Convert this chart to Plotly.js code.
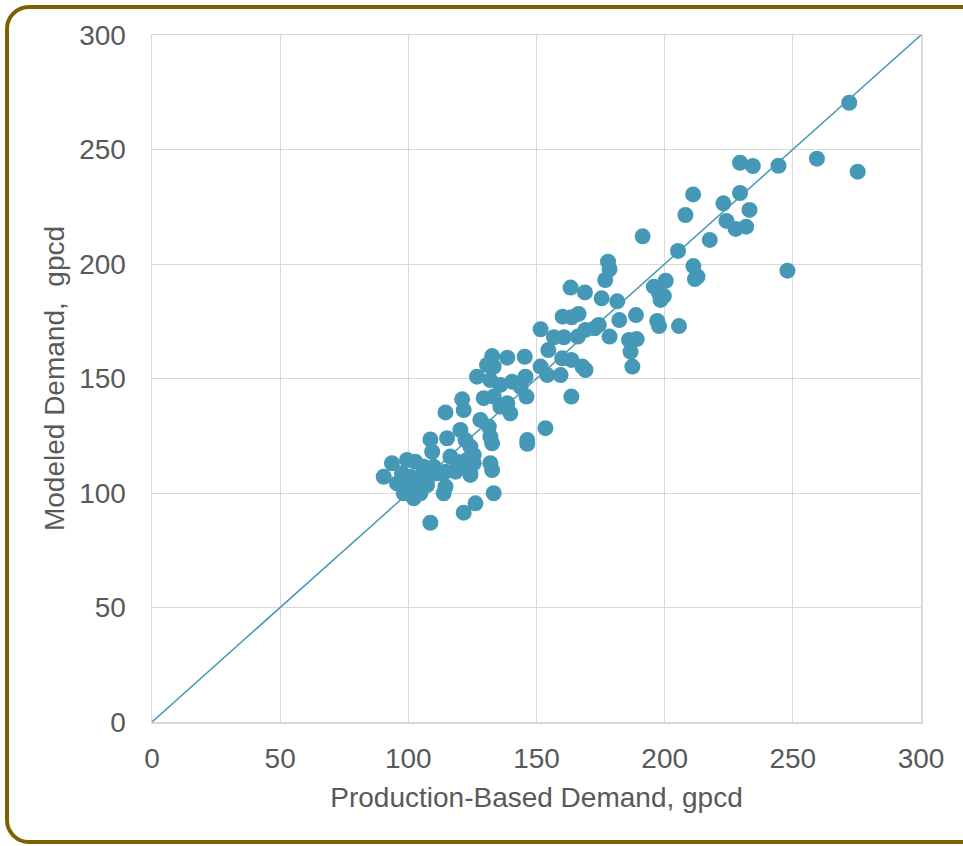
<!DOCTYPE html>
<html>
<head>
<meta charset="utf-8">
<script src="https://cdn.plot.ly/plotly-3.0.1.min.js"></script>
<style>
  html, body { margin: 0; padding: 0; background: #ffffff; }
  #frame { position: absolute; left: 5px; top: 5px; width: 990px; height: 839px;
           border: 4px solid #7f6000; border-radius: 24px; box-sizing: border-box; }
  #chart { position: absolute; left: 0; top: 0; width: 963px; height: 846px; }
</style>
</head>
<body>
<div id="frame"></div>
<div id="chart"></div>
<script>
// Production-based demand (gpcd)
const productionDemand = [
  272.0, 229.4, 234.4, 244.4, 259.4, 275.3, 211.1, 229.4, 222.9, 233.1,
  208.1, 224.1, 227.7, 231.8, 191.4, 217.6, 205.2, 177.9, 178.5, 176.8,
  211.2, 212.8, 211.8, 247.9, 200.4, 195.8, 197.8, 199.7, 198.4, 175.4,
  181.5, 163.3, 168.9, 188.8, 182.3, 197.1, 197.8, 205.6, 160.2, 163.7,
  166.4, 151.6, 156.8, 160.7, 166.1, 169.1, 172.7, 174.3, 178.5, 186.1,
  189.1, 186.7, 187.4, 154.6, 138.6, 145.4, 160.0, 163.6, 151.6, 154.2,
  159.4, 167.9, 169.1, 140.5, 145.7, 143.8, 146.1, 163.6, 135.9, 139.8,
  153.5, 146.4, 132.7, 130.7, 133.3, 126.8, 132.0, 135.9, 129.4, 133.3,
  138.6, 121.0, 121.6, 114.5, 128.1, 131.4, 120.3, 122.3, 132.0, 132.7,
  108.6, 115.1, 109.3, 124.2, 125.5, 122.9, 116.4, 119.0, 121.6, 125.5,
  124.2, 132.0, 132.7, 118.4, 93.6, 90.4, 99.5, 102.7, 106.0, 109.9,
  97.5, 100.8, 104.7, 107.9, 111.2, 114.5, 95.6, 99.5, 103.4, 107.3,
  98.2, 102.1, 104.7, 114.5, 113.8, 124.2, 133.3, 126.2, 121.6, 108.6,
  146.4
];
// Modeled demand (gpcd)
const modeledDemand = [
  270.4, 244.2, 242.8, 242.9, 246.0, 240.3, 230.4, 231.0, 226.5, 223.6,
  221.4, 218.8, 215.3, 216.3, 212.1, 210.5, 205.7, 201.0, 197.7, 193.0,
  199.1, 194.5, 193.4, 197.1, 192.7, 190.1, 187.2, 186.0, 184.3, 185.0,
  183.7, 189.7, 187.6, 177.7, 175.5, 175.1, 172.9, 172.9, 177.0, 176.7,
  178.2, 171.5, 168.0, 168.0, 168.3, 171.2, 171.9, 173.4, 168.3, 166.8,
  167.2, 161.7, 155.2, 162.4, 159.1, 159.5, 158.8, 158.1, 155.2, 151.5,
  151.5, 155.2, 153.7, 148.6, 150.8, 146.4, 142.1, 142.1, 137.7, 134.8,
  128.3, 123.1, 159.8, 155.9, 155.2, 150.8, 149.3, 147.2, 141.4, 142.1,
  139.2, 140.9, 136.2, 135.2, 131.9, 129.0, 127.5, 123.1, 124.6, 121.7,
  123.4, 123.9, 118.0, 120.2, 116.6, 114.4, 115.9, 113.7, 111.5, 113.0,
  108.6, 113.0, 110.0, 109.3, 113.0, 107.1, 114.4, 113.7, 111.5, 111.5,
  108.6, 107.1, 107.1, 107.1, 108.6, 109.3, 104.2, 102.8, 103.5, 103.5,
  99.9, 97.7, 99.9, 102.8, 99.9, 107.9, 99.9, 95.5, 91.4, 87.0,
  121.5
];
const lineEnds = [0, 300];
const tickVals = [0, 50, 100, 150, 200, 250, 300];
const tickText = ["0", "50", "100", "150", "200", "250", "300"];

const blue = "#4599b6";
const traces = [
  {
    x: lineEnds, y: lineEnds, type: "scatter", mode: "lines",
    line: { color: blue, width: 1.5 }, hoverinfo: "skip", showlegend: false
  },
  {
    x: productionDemand, y: modeledDemand, type: "scatter", mode: "markers",
    marker: { color: blue, size: 16, line: { width: 0 } }, showlegend: false
  }
];

const axisFont = { family: "Liberation Sans, Arial, sans-serif", size: 28, color: "#595959" };
const layout = {
  width: 963, height: 846,
  paper_bgcolor: "rgba(0,0,0,0)", plot_bgcolor: "#ffffff",
  margin: { l: 152, r: 42, t: 35, b: 124 },
  showlegend: false,
  xaxis: {
    range: [0, 300], tickvals: tickVals, ticktext: tickText,
    showgrid: true, gridcolor: "#d9d9d9", gridwidth: 1,
    showline: true, linecolor: "#d9d9d9", linewidth: 1.5, mirror: true,
    zeroline: false, ticks: "", tickfont: axisFont, ticklabelstandoff: 11,
    title: { text: "Production-Based Demand, gpcd", font: axisFont, standoff: 14 }
  },
  yaxis: {
    range: [0, 300], tickvals: tickVals, ticktext: tickText,
    showgrid: true, gridcolor: "#d9d9d9", gridwidth: 1,
    showline: true, linecolor: "#d9d9d9", linewidth: 1.5, mirror: true,
    zeroline: false, ticks: "", tickfont: axisFont, ticklabelstandoff: 19,
    title: { text: "Modeled Demand,  gpcd", font: axisFont, standoff: 6 }
  }
};

Plotly.newPlot("chart", traces, layout, { displayModeBar: false, staticPlot: true });
</script>
</body>
</html>
